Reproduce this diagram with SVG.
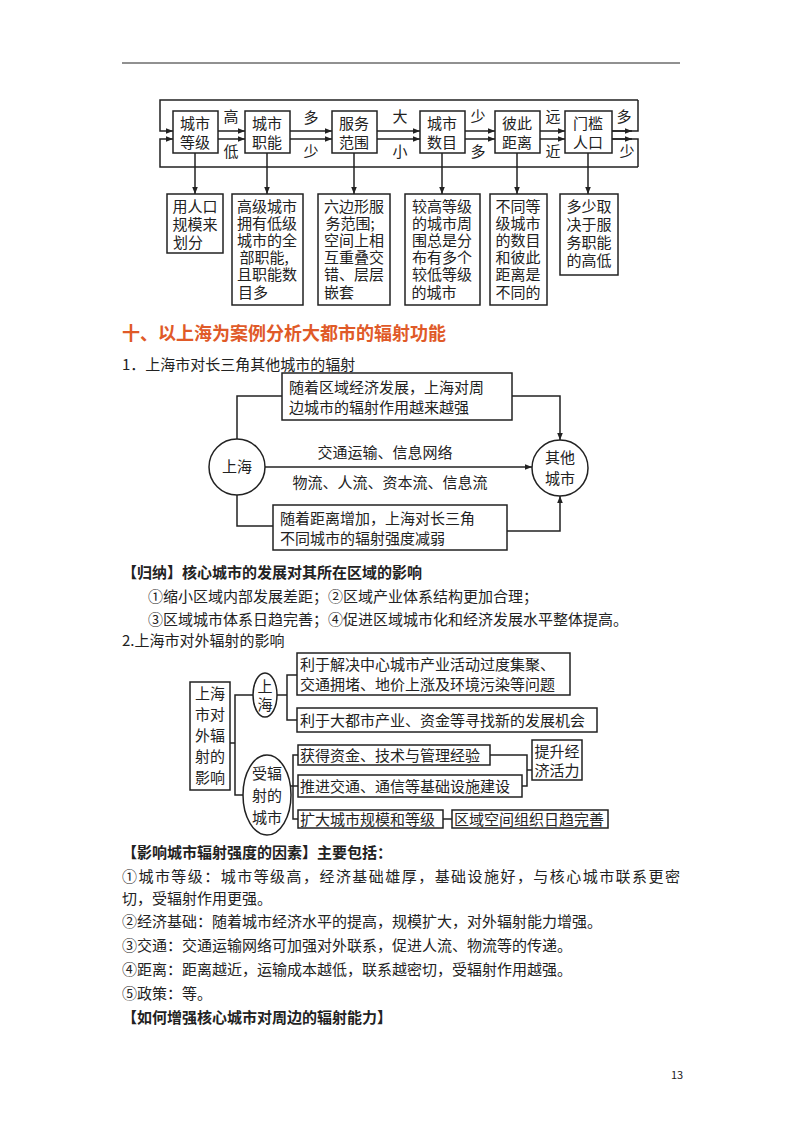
<svg xmlns="http://www.w3.org/2000/svg" width="800" height="1132" viewBox="0 0 800 1132">
<defs>
<marker id="ar" viewBox="0 0 10 10" refX="10" refY="5" markerWidth="7" markerHeight="7" orient="auto" markerUnits="userSpaceOnUse"><path d="M0,1 L10,5 L0,9 z" fill="#222"/></marker>
</defs>
<style>
text{font-family:"Noto Sans CJK SC","Liberation Sans",sans-serif;fill:#222}
.b{fill:#fff;stroke:#222;stroke-width:1.5}
.l{fill:none;stroke:#222;stroke-width:1.5}
.a{fill:none;stroke:#222;stroke-width:1.5;marker-end:url(#ar)}
.t{font-size:15px}
.m{font-size:15px;text-anchor:middle}
.h{font-weight:bold;font-size:15px}
</style>
<rect width="800" height="1132" fill="#fff"/>
<line x1="122" y1="63" x2="680" y2="63" stroke="#222" stroke-width="1"/>

<g id="connectors">
<polyline class="a" points="638,100 160,100 160,131 173,131"/>
<polyline class="l" points="612,131 638,131 638,100"/>
<polyline class="a" points="612,131 632,131"/>
<polyline class="a" points="638,167 160,167 160,139 173,139"/>
<polyline class="l" points="612,139 638,139 638,167"/>
<polyline class="a" points="612,139 632,139"/>
<line class="a" x1="218" y1="131" x2="245" y2="131"/><line class="a" x1="218" y1="139" x2="245" y2="139"/>
<line class="a" x1="290" y1="131" x2="332" y2="131"/><line class="a" x1="290" y1="139" x2="332" y2="139"/>
<line class="a" x1="377" y1="131" x2="420" y2="131"/><line class="a" x1="377" y1="139" x2="420" y2="139"/>
<line class="a" x1="465" y1="131" x2="495" y2="131"/><line class="a" x1="465" y1="139" x2="495" y2="139"/>
<line class="a" x1="540" y1="131" x2="565" y2="131"/><line class="a" x1="540" y1="139" x2="565" y2="139"/>
<line class="a" x1="195" y1="153" x2="195" y2="194"/>
<line class="a" x1="267" y1="153" x2="267" y2="194"/>
<line class="a" x1="354" y1="153" x2="354" y2="194"/>
<line class="a" x1="442" y1="153" x2="442" y2="194"/>
<line class="a" x1="517" y1="153" x2="517" y2="194"/>
<line class="a" x1="588" y1="153" x2="588" y2="194"/>
<polyline class="l" points="237,439 237,396 282,396"/>
<polyline class="a" points="512,396 560,396 560,440"/>
<line class="a" x1="265" y1="467" x2="532" y2="467"/>
<polyline class="l" points="237,495 237,526 273,526"/>
<polyline class="a" points="507,531 560,531 560,496"/>
<polyline class="l" points="230,743 235,743"/>
<polyline class="l" points="253,695 235,695 235,795 243,795"/>
<polyline class="l" points="297,675 287,675 287,720 297,720"/>
<line class="l" x1="277" y1="695" x2="287" y2="695"/>
<polyline class="l" points="298,755 293,755 293,819 298,819"/>
<line class="l" x1="291" y1="786" x2="298" y2="786"/>
<polyline class="l" points="490,755 527,755 527,786 522,786"/>
<line class="l" x1="527" y1="770" x2="532" y2="770"/>
<line class="l" x1="443" y1="819" x2="452" y2="819"/>
</g>

<g>
<text x="231" y="122" class="m">高</text><text x="231" y="157" class="m">低</text>
<text x="311" y="123" class="m">多</text><text x="311" y="157" class="m">少</text>
<text x="400" y="122" class="m">大</text><text x="400" y="157" class="m">小</text>
<text x="478" y="122" class="m">少</text><text x="478" y="157" class="m">多</text>
<text x="553" y="122" class="m">远</text><text x="553" y="157" class="m">近</text>
<text x="624" y="122" class="m">多</text><text x="627" y="157" class="m">少</text>
</g>

<g id="n1"><rect class="b" x="173" y="111" width="45" height="42"/><text class="m" x="195" y="129">城市</text><text class="m" x="195" y="148">等级</text></g>
<g id="n2"><rect class="b" x="245" y="111" width="45" height="42"/><text class="m" x="267" y="129">城市</text><text class="m" x="267" y="148">职能</text></g>
<g id="n3"><rect class="b" x="332" y="111" width="45" height="42"/><text class="m" x="354" y="129">服务</text><text class="m" x="354" y="148">范围</text></g>
<g id="n4"><rect class="b" x="420" y="111" width="45" height="42"/><text class="m" x="442" y="129">城市</text><text class="m" x="442" y="148">数目</text></g>
<g id="n5"><rect class="b" x="495" y="111" width="45" height="42"/><text class="m" x="517" y="129">彼此</text><text class="m" x="517" y="148">距离</text></g>
<g id="n6"><rect class="b" x="565" y="111" width="47" height="42"/><text class="m" x="588" y="129">门槛</text><text class="m" x="588" y="148">人口</text></g>

<g id="d1"><rect class="b" x="167" y="194" width="56" height="59"/><text class="m" x="195" y="212">用人口</text><text class="m" x="195" y="230">规模来</text><text class="m" x="188" y="248">划分</text></g>
<g id="d2"><rect class="b" x="232" y="194" width="71" height="111"/><text class="m" x="267" y="212">高级城市</text><text class="m" x="267" y="229">拥有低级</text><text class="m" x="267" y="246">城市的全</text><text class="m" x="264" y="263">部职能,</text><text class="m" x="267" y="280">且职能数</text><text class="m" x="253" y="298">目多</text></g>
<g id="d3"><rect class="b" x="318" y="194" width="72" height="111"/><text class="m" x="354" y="212">六边形服</text><text class="m" x="350" y="229">务范围;</text><text class="m" x="354" y="246">空间上相</text><text class="m" x="354" y="263">互重叠交</text><text class="m" x="354" y="280">错、层层</text><text class="m" x="339" y="298">嵌套</text></g>
<g id="d4"><rect class="b" x="405" y="194" width="75" height="111"/><text class="m" x="442" y="212">较高等级</text><text class="m" x="442" y="229">的城市周</text><text class="m" x="442" y="246">围总是分</text><text class="m" x="442" y="263">布有多个</text><text class="m" x="442" y="280">较低等级</text><text class="m" x="434" y="298">的城市</text></g>
<g id="d5"><rect class="b" x="490" y="194" width="57" height="111"/><text class="m" x="518" y="212">不同等</text><text class="m" x="518" y="229">级城市</text><text class="m" x="518" y="246">的数目</text><text class="m" x="518" y="263">和彼此</text><text class="m" x="518" y="280">距离是</text><text class="m" x="518" y="298">不同的</text></g>
<g id="d6"><rect class="b" x="560" y="194" width="58" height="81"/><text class="m" x="589" y="212">多少取</text><text class="m" x="589" y="230">决于服</text><text class="m" x="589" y="248">务职能</text><text class="m" x="589" y="266">的高低</text></g>

<text x="122" y="340" font-size="18" font-weight="bold" style="fill:#e05a28">十、以上海为案例分析大都市的辐射功能</text>
<text x="122" y="370" class="t">1．上海市对长三角其他城市的辐射</text>

<g id="sh"><circle class="b" cx="237" cy="467" r="28"/><text class="m" x="237" y="472">上海</text></g>
<g id="qt"><circle class="b" cx="560" cy="468" r="28"/><text class="m" x="560" y="463">其他</text><text class="m" x="560" y="484">城市</text></g>
<g id="tb"><rect class="b" x="282" y="373" width="230" height="47"/><text class="t" x="289" y="393">随着区域经济发展，上海对周</text><text class="t" x="289" y="413">边城市的辐射作用越来越强</text></g>
<g id="bb"><rect class="b" x="273" y="505" width="234" height="45"/><text class="t" x="280" y="524">随着距离增加，上海对长三角</text><text class="t" x="280" y="544">不同城市的辐射强度减弱</text></g>
<text class="m" x="385" y="458">交通运输、信息网络</text>
<text class="m" x="390" y="488">物流、人流、资本流、信息流</text>

<text x="122" y="578" class="h">【归纳】核心城市的发展对其所在区域的影响</text>
<text x="148" y="602" class="t">①缩小区域内部发展差距；②区域产业体系结构更加合理；</text>
<text x="148" y="625" class="t">③区域城市体系日趋完善；④促进区域城市化和经济发展水平整体提高。</text>
<text x="122" y="646" class="t">2.上海市对外辐射的影响</text>

<g id="lb"><rect class="b" x="190" y="682" width="40" height="108"/><text class="m" x="210" y="699">上海</text><text class="m" x="210" y="720">市对</text><text class="m" x="210" y="741">外辐</text><text class="m" x="210" y="762">射的</text><text class="m" x="210" y="783">影响</text></g>
<g id="e1"><ellipse class="b" cx="265" cy="695" rx="12" ry="22"/><text class="m" x="265" y="692">上</text><text class="m" x="265" y="710">海</text></g>
<g id="e2"><ellipse class="b" cx="267" cy="795" rx="24" ry="40"/><text class="m" x="267" y="779">受辐</text><text class="m" x="267" y="801">射的</text><text class="m" x="267" y="823">城市</text></g>
<g id="ba"><rect class="b" x="297" y="653" width="273" height="42"/><text class="t" x="300" y="670">利于解决中心城市产业活动过度集聚、</text><text class="t" x="300" y="690">交通拥堵、地价上涨及环境污染等问题</text></g>
<g id="bbb"><rect class="b" x="297" y="708" width="300" height="24"/><text class="t" x="300" y="726">利于大都市产业、资金等寻找新的发展机会</text></g>
<g id="bc"><rect class="b" x="298" y="745" width="192" height="20"/><text class="t" x="300" y="761">获得资金、技术与管理经验</text></g>
<g id="bd"><rect class="b" x="298" y="775" width="224" height="22"/><text class="t" x="300" y="792">推进交通、通信等基础设施建设</text></g>
<g id="be"><rect class="b" x="298" y="810" width="145" height="18"/><text class="t" x="300" y="825">扩大城市规模和等级</text></g>
<g id="bf"><rect class="b" x="452" y="810" width="156" height="18"/><text class="t" x="454" y="825">区域空间组织日趋完善</text></g>
<g id="bg"><rect class="b" x="532" y="740" width="50" height="40"/><text class="m" x="557" y="757">提升经</text><text class="m" x="557" y="776">济活力</text></g>

<text x="122" y="858" class="h">【影响城市辐射强度的因素】主要包括：</text>
<text x="122" y="882" class="t" textLength="558">①城市等级：城市等级高，经济基础雄厚，基础设施好，与核心城市联系更密</text>
<text x="122" y="904" class="t">切，受辐射作用更强。</text>
<text x="122" y="927" class="t">②经济基础：随着城市经济水平的提高，规模扩大，对外辐射能力增强。</text>
<text x="122" y="951" class="t">③交通：交通运输网络可加强对外联系，促进人流、物流等的传递。</text>
<text x="122" y="975" class="t">④距离：距离越近，运输成本越低，联系越密切，受辐射作用越强。</text>
<text x="122" y="999" class="t">⑤政策：等。</text>
<text x="122" y="1023" class="h">【如何增强核心城市对周边的辐射能力】</text>
<text x="671" y="1079" font-size="11">13</text>
</svg>
